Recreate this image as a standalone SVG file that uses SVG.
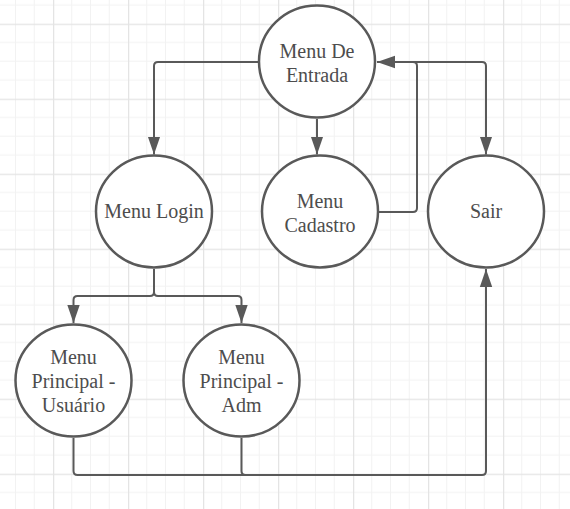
<svg xmlns="http://www.w3.org/2000/svg" width="570" height="509" viewBox="0 0 570 509">
<style>
.node ellipse{fill:#ffffff;stroke:#595959;stroke-width:2.5}
.node text{font-family:"Liberation Serif","Times New Roman",serif;font-size:20px;fill:#4d4d4d;text-anchor:middle}
.conn path{fill:none;stroke:#595959;stroke-width:2}
.arr{marker-end:url(#ah)}
</style>
<defs>
<pattern id="grid" patternUnits="userSpaceOnUse" x="53" y="23.7" width="75" height="75">
<path d="M18.75,0V75M37.5,0V75M56.25,0V75M0,18.75H75M0,37.5H75M0,56.25H75" stroke="#f2f2f2" stroke-width="1" fill="none"/>
<path d="M0.5,0V75M0,0.5H75" stroke="#e4e4e4" stroke-width="1.5" fill="none"/>
</pattern>
<marker id="ah" markerUnits="userSpaceOnUse" markerWidth="18" markerHeight="14" viewBox="0 0 16 11" refX="16" refY="5.5" orient="auto">
<path d="M0,0L16,5.5L0,11Z" fill="#595959"/>
</marker>
</defs>
<rect width="570" height="509" fill="#ffffff"/>
<rect width="570" height="509" fill="url(#grid)"/>
<g id="connectors" class="conn">
<path class="arr" d="M258,62H158Q154,62 154,66V154.5"/>
<path class="arr" d="M317,119V154.5"/>
<path class="arr" d="M379,212H413Q417,212 417,208V66Q417,62 413,62H377"/>
<path class="arr" d="M377,62H482Q486,62 486,66V154.5"/>
<path class="arr" d="M154,269V292Q154,296 150,296H77.5Q73.5,296 73.5,300V323"/>
<path class="arr" d="M154,292Q154,296 158,296H237.5Q241.5,296 241.5,300V323"/>
<path class="arr" d="M73.5,438V471Q73.5,475 77.5,475H482Q486,475 486,471V269"/>
<path d="M241.5,438V471Q241.5,475 245.5,475"/>
</g>
<g id="menu-entrada" class="node">
<ellipse cx="317" cy="61.5" rx="58" ry="56"/>
<text x="317" y="57.5">Menu De</text>
<text x="317" y="82">Entrada</text>
</g>
<g id="menu-login" class="node">
<ellipse cx="154" cy="211.5" rx="58" ry="56"/>
<text x="154" y="218">Menu Login</text>
</g>
<g id="menu-cadastro" class="node">
<ellipse cx="320" cy="211.5" rx="58" ry="56"/>
<text x="320" y="207.5">Menu</text>
<text x="320" y="232">Cadastro</text>
</g>
<g id="sair" class="node">
<ellipse cx="486" cy="211.5" rx="58" ry="56"/>
<text x="486" y="218">Sair</text>
</g>
<g id="menu-principal-usuario" class="node">
<ellipse cx="73.5" cy="380.5" rx="58" ry="56"/>
<text x="73.5" y="363.5">Menu</text>
<text x="73.5" y="387.5">Principal -</text>
<text x="73.5" y="411.5">Usuário</text>
</g>
<g id="menu-principal-adm" class="node">
<ellipse cx="241.5" cy="380.5" rx="58" ry="56"/>
<text x="241.5" y="363.5">Menu</text>
<text x="241.5" y="387.5">Principal -</text>
<text x="241.5" y="411.5">Adm</text>
</g>
</svg>
